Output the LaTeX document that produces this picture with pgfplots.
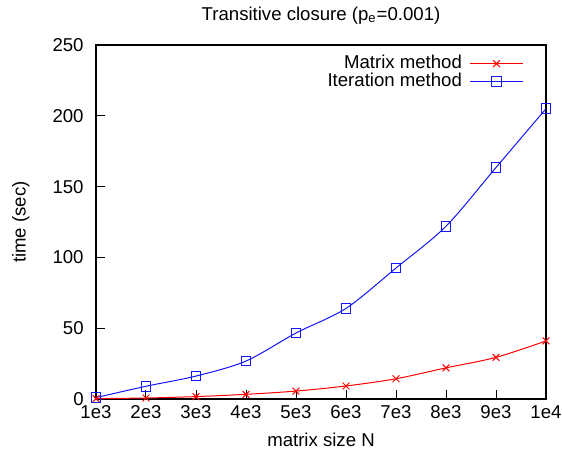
\documentclass[border=0pt]{standalone}
\usepackage{pgfplots}
\pgfplotsset{compat=1.18}
\usepackage{fontspec}
\setmainfont{Liberation Sans}
\definecolor{gpred}{RGB}{255,0,0}
\definecolor{gpblue}{RGB}{20,20,255}

\begin{document}
\fontsize{9.3pt}{11pt}\selectfont
\begin{tikzpicture}
\begin{axis}[
    scale only axis,
    width=225pt, height=177pt,
    xmin=1000, xmax=10000,
    ymin=0, ymax=250,
    xtick={1000,2000,3000,4000,5000,6000,7000,8000,9000,10000},
    xticklabels={1e3,2e3,3e3,4e3,5e3,6e3,7e3,8e3,9e3,1e4},
    scaled x ticks=false,
    ytick={0,50,100,150,200,250},
    /pgf/number format/assume math mode=true,
    tick align=inside,
    xtick pos=bottom, ytick pos=left,
    major tick length=4.5pt,
    tick style={black, line width=0.5pt},
    axis line style={line width=0.6pt},
    xticklabel style={inner sep=0pt, yshift=-3pt},
    yticklabel style={inner sep=0pt, xshift=-6pt},
    title={Transitive closure (p\textsubscript{e}=0.001)},
    every axis title shift=0pt,
    title style={at={(axis description cs:0.5,1.082)}, anchor=center},
    xlabel={matrix size N},
    xlabel style={at={(axis description cs:0.5,-0.116)}, anchor=center},
    ylabel={time (sec)},
    ylabel style={at={(axis description cs:-0.167,0.5)}, anchor=center},
    legend plot pos=right,
    legend cell align=right,
    legend style={draw=none, fill=none, at={(axis description cs:0.963,0.985)},
        anchor=north east, row sep=0pt, column sep=2pt,
        nodes={inner xsep=2pt, inner ysep=0.4pt}},
    legend image code/.code={\draw[mark repeat=2,mark phase=2,#1] plot coordinates {(0pt,0pt) (13pt,0pt) (26pt,0pt)};},
]
\addplot[color=gpred, line width=0.5pt, smooth, mark=x, mark size=2.4pt, mark options={solid, color=gpred}]
coordinates {
(1000,0.3) (2000,0.7) (3000,1.7) (4000,3.3) (5000,5.6)
(6000,9.2) (7000,14.3) (8000,22) (9000,29.4) (10000,41)
};
\addlegendentry{Matrix method}
\addplot[color=gpblue, line width=0.5pt, smooth, mark=square, mark size=2.4pt, mark options={solid, color=gpblue}]
coordinates {
(1000,1) (2000,9) (3000,16.2) (4000,26.8) (5000,46.6)
(6000,64) (7000,92.5) (8000,122) (9000,163.5) (10000,205)
};
\addlegendentry{Iteration method}
\end{axis}
\pgfresetboundingbox
\path (-48pt,-31pt) rectangle (233pt,199.5pt);
\end{tikzpicture}
\end{document}
